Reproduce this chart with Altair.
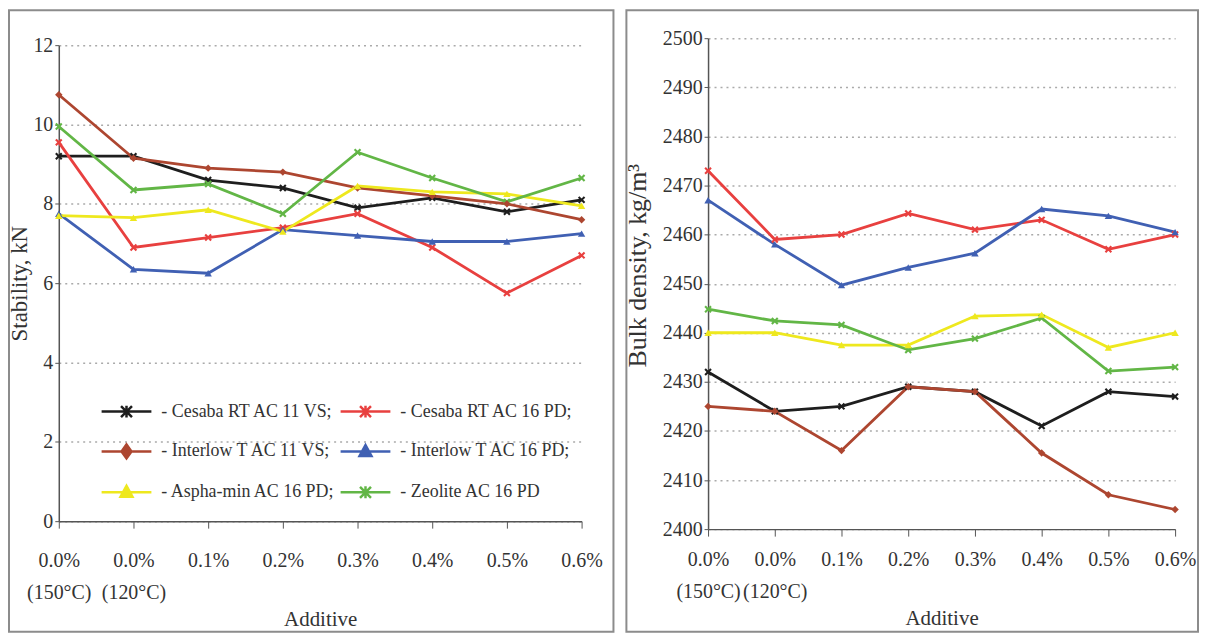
import altair as alt
import pandas as pd

categories = ["0.0% (150°C)", "0.0% (120°C)", "0.1%", "0.2%", "0.3%", "0.4%", "0.5%", "0.6%"]
series = ["Cesaba RT AC 11 VS", "Cesaba RT AC 16 PD", "Interlow T AC 11 VS",
          "Interlow T AC 16 PD", "Aspha-min AC 16 PD", "Zeolite AC 16 PD"]
colors = ["#1e1e1e", "#e8403f", "#ad4630", "#4060b3", "#eee81e", "#62b646"]

# Stability, kN
stab_cesaba11 = [9.2, 9.2, 8.6, 8.4, 7.9, 8.15, 7.8, 8.1]
stab_cesaba16 = [9.55, 6.9, 7.15, 7.4, 7.75, 6.9, 5.75, 6.7]
stab_interlow11 = [10.75, 9.15, 8.9, 8.8, 8.4, 8.2, 8.0, 7.6]
stab_interlow16 = [7.75, 6.35, 6.25, 7.35, 7.2, 7.05, 7.05, 7.25]
stab_asphamin = [7.7, 7.65, 7.85, 7.3, 8.45, 8.3, 8.25, 7.95]
stab_zeolite = [9.95, 8.35, 8.5, 7.75, 9.3, 8.65, 8.05, 8.65]

# Bulk density, kg/m3
dens_cesaba11 = [2432, 2424, 2425, 2429, 2428, 2421, 2428, 2427]
dens_cesaba16 = [2473, 2459, 2460, 2464.3, 2461, 2463, 2457, 2460]
dens_interlow11 = [2425, 2424, 2416, 2429, 2428, 2415.5, 2407, 2404]
dens_interlow16 = [2467, 2458, 2449.7, 2453.3, 2456.2, 2465.2, 2463.8, 2460.5]
dens_asphamin = [2440, 2440, 2437.5, 2437.5, 2443.4, 2443.7, 2437, 2440]
dens_zeolite = [2444.8, 2442.4, 2441.6, 2436.5, 2438.8, 2443, 2432.2, 2433]

FONT = "Liberation Serif, Times New Roman, serif"

X_MARK = "M-1,-0.6L-0.6,-1L0,-0.4L0.6,-1L1,-0.6L0.4,0L1,0.6L0.6,1L0,0.4L-0.6,1L-1,0.6L-0.4,0Z"
LEG_X = "M-5,0H5M-1.1,-1.1L1.1,1.1M-1.1,1.1L1.1,-1.1M0,-1.2V1.2"
LEG_D = "M-5,0H5M0,-1.4L1,0L0,1.4L-1,0Z"
LEG_T = "M-5,0H5M0,-1.3L1.2,0.9L-1.2,0.9Z"
legend_shapes = [LEG_X, LEG_X, LEG_D, LEG_T, LEG_T, LEG_X]


def frame(values):
    rows = []
    for s, vals in zip(series, values):
        for i, (c, v) in enumerate(zip(categories, vals)):
            rows.append({"additive": c, "series": s, "value": v, "idx": i})
    return pd.DataFrame(rows)


def panel(df, w, h, top, ydom, ystep, ytitle, ytsize, ytpad, xpad, tpad, ytitle_y, rect, with_legend):
    color_scale = alt.Scale(domain=series, range=colors)
    if with_legend:
        leg = alt.Legend(orient="none", legendX=45, legendY=366, columns=2, direction="horizontal",
                         title=None, labelFont=FONT, labelFontSize=18, labelColor="#333",
                         labelLimit=400, symbolSize=100, symbolStrokeWidth=2.5,
                         symbolOffset=14, labelOffset=26, rowPadding=17, columnPadding=0,
                         labelExpr="'- ' + datum.label + (datum.label == 'Zeolite AC 16 PD' ? '' : ';')")
    else:
        leg = None
    x = alt.X("additive:O", sort=categories,
              scale=alt.Scale(domain=categories, padding=0),
              axis=alt.Axis(title="Additive", labelExpr="split(datum.label, ' ')",
                            labelAngle=0, labelOverlap=False, labelBound=False,
                            labelFont=FONT, labelFontSize=20, labelColor="#333",
                            labelLineHeight=32, labelPadding=xpad, tickSize=7,
                            tickColor="#555", domainColor="#555", domainWidth=1.5,
                            titleFont=FONT, titleFontSize=21, titleFontWeight="normal",
                            titleColor="#333", titlePadding=tpad, grid=False))
    yaxis = dict(title=ytitle, values=list(range(ydom[0], ydom[1] + 1, ystep)), format="d",
                 labelFont=FONT, labelFontSize=20, labelColor="#333", labelPadding=2,
                 tickSize=4, tickColor="#555", domainColor="#555", domainWidth=1.5,
                 grid=True, gridDash=[2, 4], gridColor="#aaaaaa", gridWidth=1.5,
                 titleFont=FONT, titleFontSize=ytsize, titleFontWeight="normal",
                 titleColor="#333", titlePadding=ytpad)
    if ytitle_y is not None:
        yaxis["titleY"] = ytitle_y
    y = alt.Y("value:Q", scale=alt.Scale(domain=list(ydom), range=[h, top], nice=False, zero=False),
              axis=alt.Axis(**yaxis))
    base = alt.Chart(df)
    lines = base.mark_line(strokeWidth=2.8).encode(
        x=x, y=y, color=alt.Color("series:N", scale=color_scale, legend=leg),
        order="idx:Q", detail="series:N")
    layers = [lines]
    groups = [(["Cesaba RT AC 11 VS", "Cesaba RT AC 16 PD", "Zeolite AC 16 PD"], X_MARK),
              (["Interlow T AC 11 VS"], "diamond"),
              (["Interlow T AC 16 PD", "Aspha-min AC 16 PD"], "triangle-up")]
    for members, shp in groups:
        pts = base.transform_filter(
            alt.FieldOneOfPredicate(field="series", oneOf=members)
        ).mark_point(shape=shp, filled=True, size=55, opacity=1).encode(
            x=x, y=y, color=alt.Color("series:N", scale=color_scale, legend=leg))
        layers.append(pts)
    if with_legend:
        hidden = base.transform_filter("false").mark_point(
            filled=True, opacity=1, strokeWidth=2.5).encode(
            x=x, y=y,
            color=alt.Color("series:N", scale=color_scale, legend=leg),
            stroke=alt.Stroke("series:N", scale=alt.Scale(domain=series, range=colors), legend=leg),
            shape=alt.Shape("series:N", scale=alt.Scale(domain=series, range=legend_shapes), legend=leg))
        layers.append(hidden)
    border = alt.Chart(pd.DataFrame({"b": [0]})).mark_rect(
        filled=False, stroke="#8c8c8c", strokeWidth=2).encode(
        x=alt.value(rect[0]), x2=alt.value(rect[1]), y=alt.value(rect[2]), y2=alt.value(rect[3]))
    layers.append(border)
    return alt.layer(*layers).properties(width=w, height=h)


left = panel(frame([stab_cesaba11, stab_cesaba16, stab_interlow11, stab_interlow16,
                    stab_asphamin, stab_zeolite]),
             525, 485, 7, (0, 12), 2, "Stability, kN", 23, 1, 23, 6, None,
             (-50, 525 + 32, -28, 596), True)
right = panel(frame([dens_cesaba11, dens_cesaba16, dens_interlow11, dens_interlow16,
                     dens_asphamin, dens_zeolite]),
              469, 493, 0, (2400, 2500), 10, "Bulk density, kg/m³", 26, 12, 14, 6, 228,
              (-82, 469 + 23, -28, 596), False)

chart = alt.hconcat(left, right, spacing=10).resolve_scale(
    color="independent", shape="independent", stroke="independent", x="independent", y="independent"
).resolve_legend(color="independent", shape="independent", stroke="independent").properties(
    padding=0, background="white"
).configure_view(stroke=None)

chart.save("out.html", embed_options={"renderer": "svg", "actions": False})
